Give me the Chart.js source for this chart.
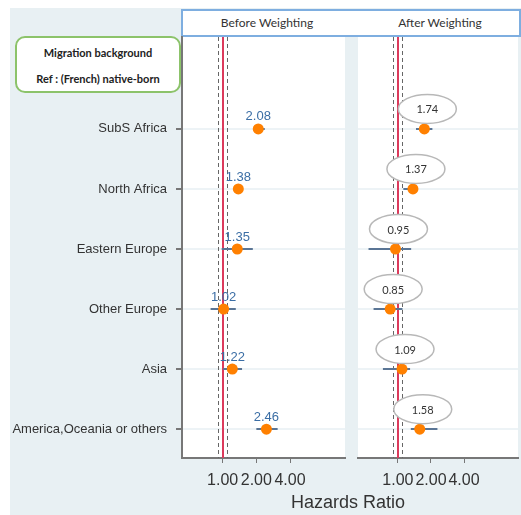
<!DOCTYPE html>
<html>
<head>
<meta charset="utf-8">
<script src="https://cdn.jsdelivr.net/npm/chart.js@4.4.0/dist/chart.umd.min.js"></script>
<style>
  html, body { margin: 0; padding: 0; background: #fff; overflow: hidden; }
  #page { position: relative; width: 521px; height: 515px; overflow: hidden; font-family: "Liberation Sans", Arial, sans-serif; }
  #bg { position: absolute; left: 10px; top: 8px; right: 0; bottom: 0; background: #e8f0f3; }
  #header { position: absolute; left: 181px; top: 9px; width: 336px; height: 24px; border: 2px solid #7eaee0; background: #fff; }
  .head { position: absolute; top: 0; height: 24px; line-height: 24px; font-family: Lato, sans-serif; font-size: 12px; color: #333; transform: translateX(-50%); white-space: nowrap; }
  #legendBox { position: absolute; left: 15px; top: 36px; width: 162px; height: 53px; border: 2px solid #8cc36a; border-radius: 10px; background: #fff; }
  .leg { position: absolute; left: 0; width: 100%; text-align: center; font-family: Lato, sans-serif; font-weight: bold; font-size: 11px; color: #222; }
  #xtitle { position: absolute; left: 248px; width: 200px; top: 492px; text-align: center; font-size: 18px; color: #333; }
  canvas { position: absolute; top: 30px; }
</style>
</head>
<body>
<div id="page">
  <div id="bg"></div>
  <div id="header">
    <span class="head" style="left:84px">Before Weighting</span>
    <span class="head" style="left:257px">After Weighting</span>
  </div>
  <div id="legendBox">
    <div class="leg" style="top:8px">Migration background</div>
    <div class="leg" style="top:34px">Ref : (French) native-born</div>
  </div>
  <canvas id="chart-before" width="350" height="470" style="left:0"></canvas>
  <canvas id="chart-after" width="171" height="470" style="left:350px"></canvas>
  <div id="xtitle">Hazards Ratio</div>
</div>
<script>
// данные
const categories = ["SubS Africa", "North Africa", "Eastern Europe", "Other Europe", "Asia", "America,Oceania or others"];

const hrBefore = [2.08, 1.38, 1.35, 1.02, 1.22, 2.46];
const loBefore = [1.88, 1.27, 0.98, 0.78, 1.01, 2.0];
const hiBefore = [2.38, 1.49, 1.86, 1.31, 1.49, 3.1];

const hrAfter = [1.74, 1.37, 0.95, 0.85, 1.09, 1.58];
const loAfter = [1.46, 1.12, 0.54, 0.6, 0.73, 1.31];
const hiAfter = [2.06, 1.46, 1.32, 1.1, 1.29, 2.29];

const xTicks = [1, 2, 4];
const refLine = 1;
const refBand = [0.9, 1.1];

const COLORS = {
  point: "#ff8000",
  ci: "#5a7595",
  ref: "#dc3a5c",
  band: "#666666",
  labelBlue: "#3b6ea5",
  axis: "#777777",
  grid: "#edf3f6",
  text: "#333333",
};

// белый фон области графика
const whiteAreaPlugin = {
  id: "whiteArea",
  beforeDraw(chart) {
    const { ctx, chartArea } = chart;
    ctx.save();
    ctx.fillStyle = "#ffffff";
    ctx.fillRect(chartArea.left, chartArea.top, chartArea.right - chartArea.left, chartArea.bottom - chartArea.top);
    ctx.restore();
  },
};

// линии референса и доверительные интервалы
const refAndCiPlugin = {
  id: "refAndCi",
  beforeDatasetsDraw(chart, args, opts) {
    const { ctx, chartArea, scales } = chart;
    const x = scales.x, y = scales.y;
    ctx.save();
    ctx.strokeStyle = COLORS.band;
    ctx.lineWidth = 1;
    ctx.setLineDash([4, 3]);
    refBand.forEach((v) => {
      const px = Math.round(x.getPixelForValue(v)) + 0.5;
      ctx.beginPath();
      ctx.moveTo(px, chartArea.top);
      ctx.lineTo(px, chartArea.bottom);
      ctx.stroke();
    });
    ctx.setLineDash([]);
    ctx.strokeStyle = COLORS.ref;
    ctx.lineWidth = 2;
    const rx = Math.round(x.getPixelForValue(refLine));
    ctx.beginPath();
    ctx.moveTo(rx, chartArea.top);
    ctx.lineTo(rx, chartArea.bottom);
    ctx.stroke();

    ctx.strokeStyle = COLORS.ci;
    ctx.lineWidth = 2;
    opts.lo.forEach((lo, i) => {
      const py = Math.round(y.getPixelForValue(i));
      ctx.beginPath();
      ctx.moveTo(x.getPixelForValue(lo), py);
      ctx.lineTo(x.getPixelForValue(opts.hi[i]), py);
      ctx.stroke();
    });
    ctx.restore();
  },
};

// подписи значений
const valueLabelPlugin = {
  id: "valueLabels",
  afterDatasetsDraw(chart, args, opts) {
    const { ctx, scales } = chart;
    const values = chart.data.datasets[0].data;
    ctx.save();
    ctx.textAlign = "center";
    ctx.textBaseline = "middle";
    values.forEach((d) => {
      const px = scales.x.getPixelForValue(d.x);
      const py = scales.y.getPixelForValue(d.y);
      const txt = d.x.toFixed(2);
      if (opts.bubble) {
        const cx = px + 3, cy = py - 20;
        ctx.beginPath();
        ctx.ellipse(cx, cy, 29, 14.5, 0, 0, Math.PI * 2);
        ctx.fillStyle = "#ffffff";
        ctx.fill();
        ctx.lineWidth = 1.5;
        ctx.strokeStyle = "#b8b8b8";
        ctx.stroke();
        ctx.fillStyle = COLORS.text;
        ctx.font = "11px Lato, sans-serif";
        ctx.fillText(txt, cx, cy + 1);
      } else {
        ctx.fillStyle = COLORS.labelBlue;
        ctx.font = "13px 'Liberation Sans', Arial, sans-serif";
        ctx.fillText(txt, px, py - 12);
      }
    });
    ctx.restore();
  },
};

function makeChart(canvasId, hr, lo, hi, opts) {
  const ctx = document.getElementById(canvasId).getContext("2d");
  return new Chart(ctx, {
    type: "scatter",
    data: {
      datasets: [
        {
          data: hr.map((v, i) => ({ x: v, y: i })),
          backgroundColor: COLORS.point,
          borderWidth: 0,
          pointRadius: 5.5,
          pointHoverRadius: 5.5,
        },
      ],
    },
    plugins: [whiteAreaPlugin, refAndCiPlugin, valueLabelPlugin],
    options: {
      responsive: false,
      animation: false,
      events: [],
      layout: { autoPadding: false, padding: { top: 7, right: opts.padRight, left: 0, bottom: 0 } },
      scales: {
        x: {
          type: "logarithmic",
          min: 0.433,
          max: 12.4,
          afterBuildTicks: (axis) => {
            axis.ticks = xTicks.map((v) => ({ value: v }));
          },
          afterFit: (axis) => {
            axis.height = 42;
            axis.paddingLeft = 0;
            axis.paddingRight = 0;
          },
          ticks: {
            autoSkip: false,
            maxRotation: 0,
            padding: 8,
            color: COLORS.text,
            font: { family: "'Liberation Sans', Arial, sans-serif", size: 16 },
            callback: (v) => Number(v).toFixed(2),
          },
          grid: { drawOnChartArea: false, drawTicks: true, tickLength: 5, color: COLORS.axis },
          border: { display: true, color: COLORS.axis, width: 2 },
        },
        y: {
          type: "linear",
          reverse: true,
          min: -1.53,
          max: 5.48,
          afterBuildTicks: (axis) => {
            axis.ticks = categories.map((c, i) => ({ value: i }));
          },
          // убираем авто-отступы подписей, чтобы область графика начиналась сразу под шапкой
          afterFit: (axis) => {
            axis.width = opts.yWidth;
            axis.paddingTop = 0;
            axis.paddingBottom = 0;
          },
          ticks: {
            display: opts.showLabels,
            autoSkip: false,
            padding: 9,
            color: COLORS.text,
            font: { family: "'Liberation Sans', Arial, sans-serif", size: 13 },
            callback: (v) => categories[v],
          },
          grid: {
            color: COLORS.grid,
            lineWidth: 2,
            drawTicks: opts.showLabels,
            tickLength: 6,
            tickColor: COLORS.axis,
          },
          border: { display: opts.showLabels, color: COLORS.axis, width: 2 },
        },
      },
      plugins: {
        legend: { display: false },
        tooltip: { enabled: false },
        refAndCi: { lo: lo, hi: hi },
        valueLabels: { bubble: opts.bubble },
      },
    },
  });
}

makeChart("chart-before", hrBefore, loBefore, hiBefore, { padRight: 5, yWidth: 182, showLabels: true, bubble: false });
makeChart("chart-after", hrAfter, loAfter, hiAfter, { padRight: 3, yWidth: 8, showLabels: false, bubble: true });
</script>
</body>
</html>
